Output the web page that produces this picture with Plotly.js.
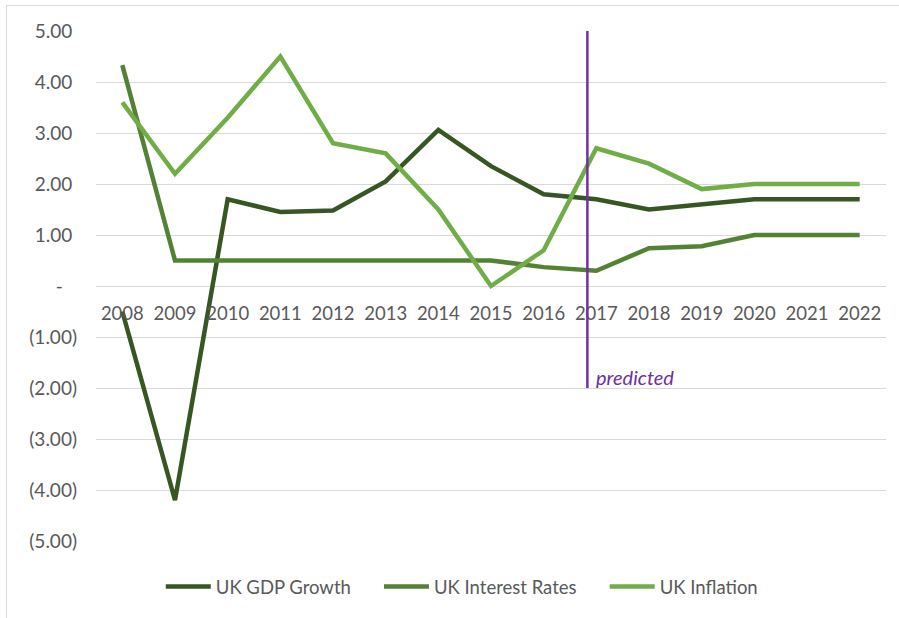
<!DOCTYPE html>
<html>
<head>
<meta charset="utf-8">
<script src="https://cdn.plot.ly/plotly-3.0.1.min.js"></script>
<style>
  html, body { margin: 0; padding: 0; background: #fff; }
  #chart { position: absolute; left: 0; top: 0; width: 899px; height: 618px; }
  #frame { position: absolute; left: 6px; top: 5px; width: 1000px; height: 1000px;
           border-left: 1px solid #d9d9d9; border-top: 1px solid #d9d9d9; pointer-events: none; }
</style>
</head>
<body>
<div id="chart"></div>
<div id="frame"></div>
<script>
const years = ['2008','2009','2010','2011','2012','2013','2014','2015','2016','2017','2018','2019','2020','2021','2022'];
const gdpGrowth     = [-0.5, -4.2, 1.7, 1.45, 1.48, 2.05, 3.06, 2.35, 1.8, 1.7, 1.5, 1.6, 1.7, 1.7, 1.7];
const interestRates = [4.33, 0.5, 0.5, 0.5, 0.5, 0.5, 0.5, 0.5, 0.37, 0.3, 0.74, 0.78, 1.0, 1.0, 1.0];
const inflation     = [3.6, 2.2, 3.3, 4.5, 2.8, 2.6, 1.5, 0.0, 0.7, 2.7, 2.4, 1.9, 2.0, 2.0, 2.0];
const seriesNames   = ['UK GDP Growth', 'UK Interest Rates', 'UK Inflation'];
const yTickVals  = [5, 4, 3, 2, 1, 0, -1, -2, -3, -4, -5];
const yTickText  = ['5.00\u2005', '4.00\u2005', '3.00\u2005', '2.00\u2005', '1.00\u2005', '-\u2003',
                    '(1.00)', '(2.00)', '(3.00)', '(4.00)', '(5.00)'];
const predictedLabel = 'predicted';
const predictedX = 8.83;   // category position of the "predicted" divider (just before 2017)
const predictedFrom = -2, predictedTo = 5.05;

const font = 'Lato, "Open Sans", sans-serif';
const colors = ['#375623', '#548235', '#70AD47'];
const legendPad = '\u2003\u2002';
const data = [gdpGrowth, interestRates, inflation].map((vals, i) => ({
  x: years, y: vals, name: seriesNames[i] + (i < 2 ? legendPad : ''), type: 'scatter', mode: 'lines',
  line: { color: colors[i], width: 4.5 }, hoverinfo: 'skip'
}));

const layout = {
  width: 899, height: 618,
  margin: { l: 96, r: 13, t: 31, b: 75 },
  paper_bgcolor: '#fff', plot_bgcolor: '#fff',
  font: { family: font, size: 18.5, color: '#595959' },
  showlegend: true,
  legend: { orientation: 'h', x: 0.463, xanchor: 'center', y: -0.09, yanchor: 'middle',
            font: { size: 18.5, color: '#595959' }, tracegroupgap: 0, itemwidth: 45 },
  xaxis: { type: 'category', range: [-0.5, 14.5], showgrid: false, zeroline: false,
           showline: false, anchor: 'free', position: 0.5, ticks: '',
           ticklabelstandoff: 14, tickfont: { size: 18.5, color: '#595959' }, fixedrange: true },
  yaxis: { range: [-5, 5], tickvals: yTickVals, ticktext: yTickText, showgrid: true,
           gridcolor: '#d9d9d9', gridwidth: 1, zeroline: false, showline: false, ticks: '',
           ticklabelstandoff: 18, tickfont: { size: 19, color: '#595959' }, fixedrange: true },
  shapes: [{ type: 'line', xref: 'x', yref: 'y', x0: predictedX, x1: predictedX,
             y0: predictedFrom, y1: predictedTo, line: { color: '#7030A0', width: 2.5 } }],
  annotations: [{ text: '<i>' + predictedLabel + '</i>', xref: 'x', yref: 'y', x: predictedX, y: -1.78,
                  xanchor: 'left', yanchor: 'middle', xshift: 7, showarrow: false,
                  font: { family: font, size: 20, color: '#7030A0' } }]
};

Plotly.newPlot('chart', data, layout, { displayModeBar: false, staticPlot: true });
</script>
</body>
</html>
